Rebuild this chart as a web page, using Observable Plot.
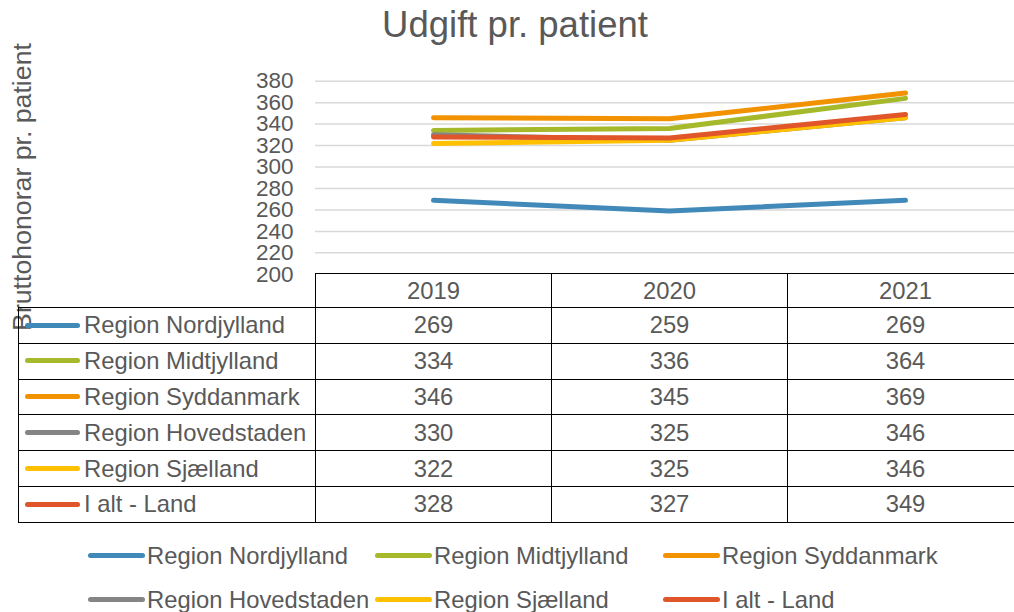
<!DOCTYPE html>
<html>
<head>
<meta charset="utf-8">
<script src="https://cdn.jsdelivr.net/npm/d3@7"></script>
<script src="https://cdn.jsdelivr.net/npm/@observablehq/plot@0.6"></script>
<style>
  html, body { margin: 0; padding: 0; background: #fff; overflow: hidden; }
  #wrap { position: relative; width: 1014px; height: 612px; font-family: "Liberation Sans", Arial, sans-serif; color: #595959; overflow: hidden; }
  #title { position: absolute; left: 1px; top: 7px; width: 1028px; text-align: center; font-size: 36.5px; line-height: 36px; white-space: nowrap; }
  #ylabel { position: absolute; left: 22px; top: 187px; transform: translate(-50%, -50%) rotate(-90deg); font-size: 26.7px; line-height: 27px; white-space: nowrap; }
  #chart { position: absolute; left: 0; top: 0; }
  #tbl { position: absolute; left: 18px; top: 273px; width: 1005px; border-collapse: collapse; table-layout: fixed; font-size: 23.8px; color: #595959; background: transparent; }
  #tbl td { border: 1.5px solid #000; height: 34.8px; padding: 0; text-align: center; vertical-align: middle; white-space: nowrap; }
  #tbl tr.hdr td { height: 33px; }
  #tbl td.blank { border-top: none; border-left: none; }
  #tbl td.lab { text-align: left; padding-left: 6px; }
  .sw { display: inline-block; width: 55px; height: 5px; border-radius: 3px; vertical-align: middle; margin-right: 4px; position: relative; top: -2px; }
  .leg { position: absolute; font-size: 23.8px; line-height: 24px; white-space: nowrap; transform: translateY(-50%); }
  .leg .sw { margin-right: 2px; width: 57px; }
</style>
</head>
<body>
<div id="wrap">
  <div id="ylabel">Bruttohonorar pr. patient</div>
  <div id="chart"></div>
  <div id="title">Udgift pr. patient</div>
  <table id="tbl"></table>
</div>
<script>
// ---- data ----
const years = ["2019", "2020", "2021"];
const seriesNames = ["Region Nordjylland", "Region Midtjylland", "Region Syddanmark", "Region Hovedstaden", "Region Sjælland", "I alt - Land"];
const nordjylland = [269, 259, 269];
const midtjylland = [334, 336, 364];
const syddanmark = [346, 345, 369];
const hovedstaden = [330, 325, 346];
const sjaelland = [322, 325, 346];
const iAltLand = [328, 327, 349];
const seriesColors = ["#4189B8", "#A5B92B", "#F39200", "#858585", "#FFC000", "#E0562A"];
const yTicks = [200, 220, 240, 260, 280, 300, 320, 340, 360, 380];

const seriesValues = [nordjylland, midtjylland, syddanmark, hovedstaden, sjaelland, iAltLand];
const data = seriesNames.flatMap((s, i) => years.map((y, j) => ({series: s, year: y, value: seriesValues[i][j]})));

const chart = Plot.plot({
  width: 1014,
  height: 300,
  marginLeft: 315,
  marginRight: 0,
  marginTop: 0,
  marginBottom: 0,
  style: {fontFamily: "'Liberation Sans', Arial, sans-serif", fontSize: "22.5px", color: "#595959", background: "transparent", overflow: "visible"},
  x: {type: "point", domain: years, range: [315, 1023], padding: 0.5, axis: null},
  y: {domain: [200, 380], range: [273.8, 80.7]},
  color: {domain: seriesNames, range: seriesColors},
  marks: [
    Plot.ruleY(yTicks.filter(t => t > 200), {stroke: "#d9d9d9", strokeWidth: 1.5}),
    Plot.axisY({ticks: yTicks, tickSize: 0, tickPadding: 22, label: null, fontSize: 22.5}),
    Plot.line(data, {x: "year", y: "value", stroke: "series", z: "series", strokeWidth: 5, strokeLinecap: "round", strokeLinejoin: "round"})
  ]
});
document.getElementById("chart").appendChild(chart);

// ---- data table ----
const tbl = document.getElementById("tbl");
const colgroup = document.createElement("colgroup");
[297, 236, 236, 236].forEach(w => { const c = document.createElement("col"); c.style.width = w + "px"; colgroup.appendChild(c); });
tbl.appendChild(colgroup);
const hdr = document.createElement("tr");
hdr.className = "hdr";
hdr.innerHTML = `<td class="blank"></td>` + years.map(y => `<td>${y}</td>`).join("");
tbl.appendChild(hdr);
seriesNames.forEach((s, i) => {
  const tr = document.createElement("tr");
  tr.innerHTML = `<td class="lab"><span class="sw" style="background:${seriesColors[i]}"></span>${s}</td>` +
    seriesValues[i].map(v => `<td>${v}</td>`).join("");
  tbl.appendChild(tr);
});

// ---- legend ----
const wrap = document.getElementById("wrap");
const legX = [88, 375, 663];
const legY = [556, 600];
seriesNames.forEach((s, i) => {
  const d = document.createElement("div");
  d.className = "leg";
  d.style.left = legX[i % 3] + "px";
  d.style.top = legY[Math.floor(i / 3)] + "px";
  d.innerHTML = `<span class="sw" style="background:${seriesColors[i]}"></span>${s}`;
  wrap.appendChild(d);
});
</script>
</body>
</html>
